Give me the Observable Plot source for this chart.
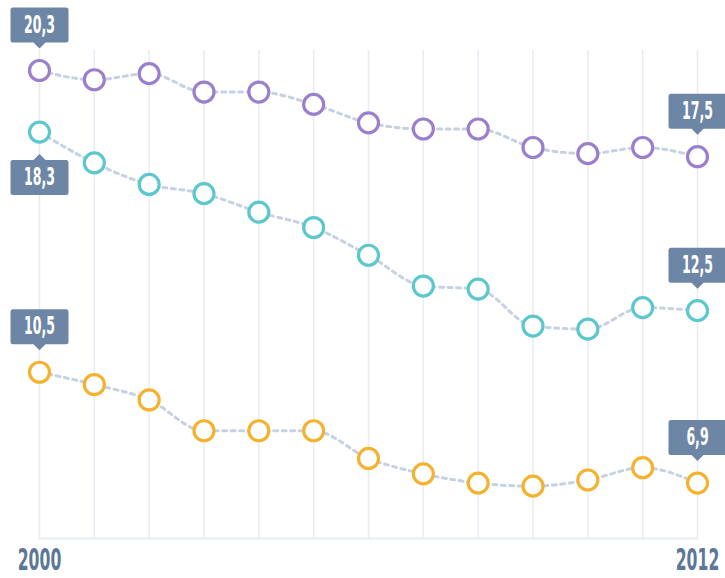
<!DOCTYPE html>
<html><head><meta charset="utf-8">
<script src="https://cdn.jsdelivr.net/npm/d3@7"></script>
<script src="https://cdn.jsdelivr.net/npm/@observablehq/plot@0.6"></script>
<style>
html,body{margin:0;padding:0;background:#fff;}
#chart svg{display:block;}
</style></head><body><div id="chart"></div>
<script>
// ---- data ----
const years = [2000,2001,2002,2003,2004,2005,2006,2007,2008,2009,2010,2011,2012];
const seriesNames = ["Series 1","Series 2","Series 3"];
const series1Values = [20.3,20.0,20.2,19.6,19.6,19.2,18.6,18.4,18.4,17.8,17.6,17.8,17.5];
const series2Values = [18.3,17.3,16.6,16.3,15.7,15.2,14.3,13.3,13.2,12.0,11.9,12.6,12.5];
const series3Values = [10.5,10.1,9.6,8.6,8.6,8.6,7.7,7.2,6.9,6.8,7.0,7.4,6.9];
const seriesColors = ["#9a80cc","#5cc7cc","#f5b22f"];
const xTickLabels = [2000, 2012];
// where the first / last value callouts sit relative to their point
const firstLabelSide = ["above","below","above"];
const lastLabelSide  = ["above","above","above"];

// ---- table ----
const allValues = [series1Values, series2Values, series3Values];
const rows = seriesNames.flatMap((s, i) => years.map((yr, j) => ({series: s, year: yr, value: allValues[i][j]})));
const fmt = v => v.toFixed(1).replace(".", ",");
const labels = seriesNames.flatMap((s, i) => {
  const v = allValues[i];
  return [
    {series: s, year: years[0], value: v[0], text: fmt(v[0]), side: firstLabelSide[i]},
    {series: s, year: years[years.length-1], value: v[v.length-1], text: fmt(v[v.length-1]), side: lastLabelSide[i]}
  ];
});

// callout box (rounded rect + pointer) as a custom symbol
function callout(dir) { // dir -1 above, +1 below
  const W = 29, H = 35, G = 28, T = 6, r = 2.5;
  return {draw(ctx) {
    const near = dir * G, far = dir * (G + H);
    const y0 = Math.min(near, far), y1 = Math.max(near, far);
    ctx.moveTo(-W + r, y0); ctx.lineTo(W - r, y0); ctx.arcTo(W, y0, W, y0 + r, r);
    ctx.lineTo(W, y1 - r); ctx.arcTo(W, y1, W - r, y1, r);
    ctx.lineTo(-W + r, y1); ctx.arcTo(-W, y1, -W, y1 - r, r);
    ctx.lineTo(-W, y0 + r); ctx.arcTo(-W, y0, -W + r, y0, r); ctx.closePath();
    ctx.moveTo(-T, near); ctx.lineTo(0, near - dir * T); ctx.lineTo(T, near); ctx.closePath();
  }};
}

const font = "'DejaVu Sans Condensed','DejaVu Sans',sans-serif";
const boxFill = "#6d86a6";

const chart = Plot.plot({
  width: 725,
  height: 578,
  marginLeft: 39,
  marginRight: 28,
  marginTop: 50,
  marginBottom: 40,
  style: {fontFamily: font, background: "#fff"},
  x: {domain: [2000, 2012], label: null},
  y: {domain: [5.1, 20.95], axis: null},
  color: {domain: seriesNames, range: seriesColors},
  marks: [
    Plot.gridX({ticks: years, stroke: "#e7ecf4", strokeOpacity: 1, strokeWidth: 1.5}),
    Plot.frame({anchor: "bottom", stroke: "#e7ecf4", strokeWidth: 2}),
    Plot.axisX({ticks: xTickLabels, tickSize: 0, tickPadding: 10, tickFormat: d => String(d), label: null,
      fontSize: 30, fontWeight: "bold", fill: "#5c7797"}),
    Plot.line(rows, {x: "year", y: "value", z: "series", stroke: "#c6d2e3", strokeWidth: 3,
      strokeDasharray: "4,4.5", curve: "monotone-x"}),
    Plot.dot(rows, {x: "year", y: "value", r: 10, stroke: "series", fill: "#fff", strokeWidth: 3.2}),
    Plot.dot(labels.filter(d => d.side === "above"), {x: "year", y: "value", symbol: callout(-1), fill: boxFill, stroke: null}),
    Plot.dot(labels.filter(d => d.side === "below"), {x: "year", y: "value", symbol: callout(1), fill: boxFill, stroke: null}),
    Plot.text(labels.filter(d => d.side === "above"), {x: "year", y: "value", text: "text", dy: -45.5,
      fill: "#fff", fontSize: 24, fontWeight: "bold", lineAnchor: "middle"}),
    Plot.text(labels.filter(d => d.side === "below"), {x: "year", y: "value", text: "text", dy: 45.5,
      fill: "#fff", fontSize: 24, fontWeight: "bold", lineAnchor: "middle"})
  ]
});
document.getElementById("chart").append(chart);

// condense the bold digits to mimic the narrow display face
d3.select(chart).selectAll('g[aria-label="text"] text, g[aria-label="x-axis tick label"] text').each(function() {
  const w = this.getComputedTextLength();
  this.setAttribute("textLength", (w * 0.58).toFixed(1));
  this.setAttribute("lengthAdjust", "spacingAndGlyphs");
});
</script>
</body></html>
